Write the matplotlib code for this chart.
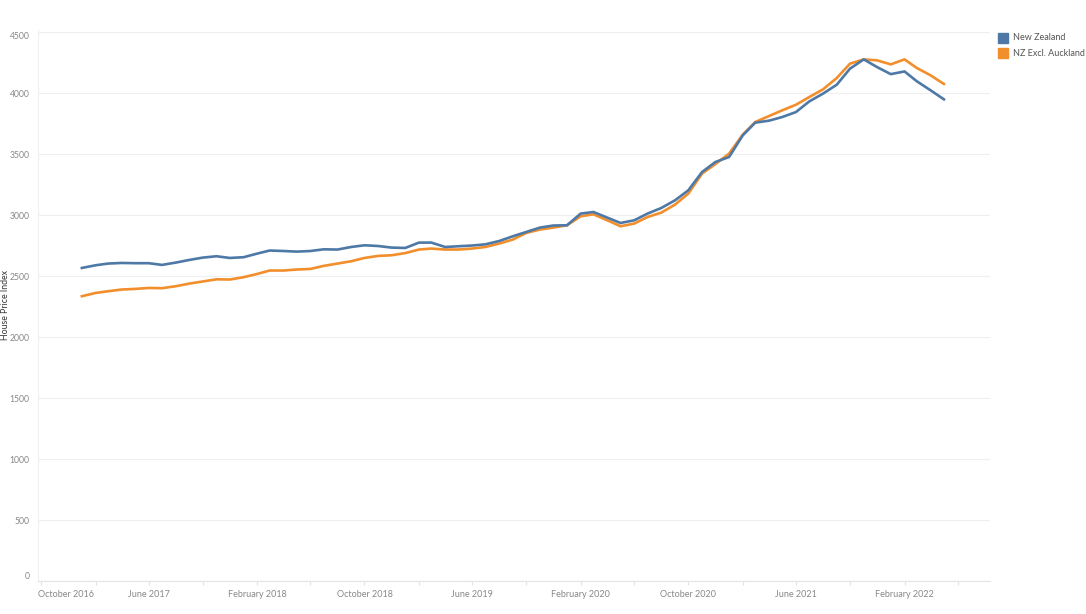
import matplotlib
matplotlib.use("Agg")
import matplotlib.pyplot as plt
import matplotlib.dates as mdates
import pandas as pd
from matplotlib.patches import Rectangle

# ---- data ----
months = pd.date_range("2017-01-01", "2022-05-01", freq="MS")

nz = [2568, 2590, 2604, 2609, 2607, 2607, 2593, 2612, 2634, 2653, 2664, 2650,
      2656, 2686, 2711, 2707, 2702, 2707, 2721, 2719, 2740, 2754, 2748, 2735,
      2732, 2776, 2776, 2740, 2746, 2752, 2762, 2789, 2828, 2863, 2899, 2916,
      2918, 3014, 3027, 2981, 2937, 2959, 3014, 3060, 3123, 3205, 3355, 3437,
      3478, 3656, 3760, 3776, 3806, 3847, 3934, 3998, 4071, 4203, 4279, 4216,
      4158, 4180, 4099, 4025, 3951]

nz_excl_akl = [2336, 2363, 2377, 2391, 2396, 2404, 2402, 2418, 2440, 2457, 2475, 2473,
               2492, 2519, 2547, 2547, 2555, 2560, 2585, 2604, 2623, 2650, 2667, 2672,
               2690, 2719, 2727, 2719, 2719, 2727, 2740, 2768, 2801, 2855, 2883, 2899,
               2918, 2992, 3008, 2959, 2910, 2932, 2986, 3022, 3088, 3178, 3342, 3420,
               3506, 3662, 3765, 3814, 3861, 3907, 3970, 4033, 4126, 4244, 4279, 4271,
               4238, 4279, 4208, 4148, 4077]

series_names = ["New Zealand", "NZ Excl. Auckland"]
colors = ["#4E79A7", "#F28E2B"]

tick_dates = pd.date_range("2016-10-01", "2022-06-01", freq="4MS")
label_dates = pd.date_range("2016-10-01", "2022-02-01", freq="8MS")
y_ticks = [0, 500, 1000, 1500, 2000, 2500, 3000, 3500, 4000, 4500]

# ---- figure ----
plt.rcParams['font.family'] = ['Lato', 'DejaVu Sans']
W, H = 1086, 614
fig = plt.figure(figsize=(W / 100, H / 100), dpi=100)
left, right, top, bottom = 38, 990, 30, 581
ax = fig.add_axes([left / W, 1 - bottom / H, (right - left) / W, (bottom - top) / H])

ax.plot(months, nz_excl_akl, color=colors[1], lw=1.9, solid_joinstyle='round', zorder=3)
ax.plot(months, nz, color=colors[0], lw=1.9, solid_joinstyle='round', zorder=4)

xmin = pd.Timestamp("2016-09-24")
ax.set_xlim(xmin, pd.Timestamp("2022-08-13"))
ax.set_ylim(0, 4520)

ax.set_yticks(y_ticks)
ylabels = ax.set_yticklabels([str(v) for v in y_ticks], color="#888888", fontsize=6.2)
ylabels[0].set_va('bottom')
ylabels[-1].set_va('top')
ax.tick_params(axis='y', length=0, pad=6)
ax.grid(axis='y', color="#efefef", lw=0.8)
ax.set_axisbelow(True)

ax.set_xticks(tick_dates)
ax.set_xticklabels([])
ax.tick_params(axis='x', length=3, color="#e4e4e4", width=0.8)
for d in label_dates:
    txt = d.strftime("%B %Y")
    if d == label_dates[0]:
        xpos, ha = mdates.date2num(xmin) + 1, 'left'
    else:
        xpos, ha = mdates.date2num(d), 'center'
    ax.text(xpos, -70, txt, ha=ha, va='top', fontsize=6.5, color="#888888")

for s in ['top', 'right']:
    ax.spines[s].set_visible(False)
ax.spines['bottom'].set_color("#e4e4e4")
ax.spines['left'].set_color("#f0f0f0")
ax.spines['bottom'].set_linewidth(0.8)
ax.spines['left'].set_linewidth(0.8)

fig.text(0.5 / W, 1 - 305 / H, "House Price Index", rotation=90, ha='left', va='center',
         fontsize=6.3, color="#333333")

# legend
for i, (name, c) in enumerate(zip(series_names, colors)):
    y0 = 33 + i * 15
    fig.patches.append(Rectangle((998 / W, 1 - (y0 + 10) / H), 10 / W, 10 / H,
                                 transform=fig.transFigure, color=c, figure=fig))
    fig.text(1013 / W, 1 - (y0 + 5) / H, name, ha='left', va='center',
             fontsize=6.5, color="#555555")

fig.savefig("out.png", dpi=100)
